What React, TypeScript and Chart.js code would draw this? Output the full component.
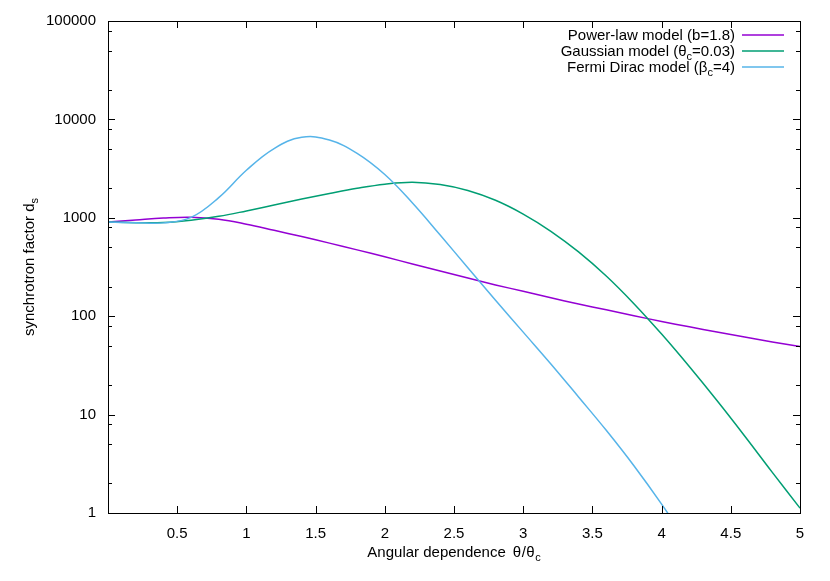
import React, { useEffect, useRef } from "react";
import { Chart, registerables } from "chart.js";

Chart.register(...registerables);

// ---- data ----
const thetaRatio = [0, 0.2, 0.4, 0.6, 0.8, 1.0, 1.2, 1.4, 1.6, 1.8, 2.0, 2.2, 2.4, 2.6, 2.8, 3.0, 3.2, 3.4, 3.6, 3.8, 4.0, 4.2, 4.4, 4.6, 4.8, 5.0];
const powerLaw = [904, 950, 995, 1014, 966, 861, 746, 644, 553, 472, 401, 340, 288, 244, 208, 179, 154, 133, 116, 101, 88.5, 78, 69, 61.4, 54.8, 49.2];
const gaussian = [904, 893, 895, 944, 1035, 1175, 1349, 1549, 1766, 1995, 2198, 2301, 2178, 1897, 1507, 1091, 729, 450, 256, 134, 65.8, 30.8, 13.9, 6.07, 2.59, 1.12];
const fermiDirac = [904, 893, 888, 1009, 1603, 3041, 5058, 6577, 6166, 4519, 2754, 1413, 668, 311, 145.5, 68.9, 32.7, 15.1, 6.92, 3.02, 1.23, 0.47, null, null, null, null];

const xTickValues = [0.5, 1, 1.5, 2, 2.5, 3, 3.5, 4, 4.5, 5];
const yTickValues = [1, 10, 100, 1000, 10000, 100000];
const yMinorFactors = [2, 5, 8];

const seriesNames = ["Power-law model (b=1.8)", "Gaussian model (θc=0.03)", "Fermi Dirac model (βc=4)"];
const seriesColors = ["#9400d3", "#009e73", "#56b4e9"];

const FONT = '"Liberation Sans", Arial, Helvetica, sans-serif';
const FS = 15;

type Seg = { t: string; sub?: boolean; pl?: number; pr?: number };

function drawRich(ctx: CanvasRenderingContext2D, segs: Seg[], x: number, y: number, align: "left" | "center" | "right") {
  const subSize = 11;
  let w = 0;
  for (const s of segs) {
    ctx.font = `${s.sub ? subSize : FS}px ${FONT}`;
    w += ctx.measureText(s.t).width + (s.pl || 0) + (s.pr || 0);
  }
  let cx = align === "left" ? x : align === "center" ? x - w / 2 : x - w;
  ctx.textAlign = "left";
  ctx.textBaseline = "alphabetic";
  for (const s of segs) {
    ctx.font = `${s.sub ? subSize : FS}px ${FONT}`;
    cx += s.pl || 0;
    ctx.fillText(s.t, cx, s.sub ? y + 4 : y);
    cx += ctx.measureText(s.t).width + (s.pr || 0);
  }
}

const legendSegs: Seg[][] = [
  [{ t: "Power-law model (b=1.8)" }],
  [{ t: "Gaussian model (θ" }, { t: "c", sub: true }, { t: "=0.03)" }],
  [{ t: "Fermi Dirac model (β" }, { t: "c", sub: true }, { t: "=4)" }],
];

const xTitleSegs: Seg[] = [
  { t: "Angular dependence", pr: 7 },
  { t: "θ", pr: 0.5 },
  { t: "/", pr: 0.5 },
  { t: "θ", pr: 0.5 },
  { t: "c", sub: true },
];

const yTitleSegs: Seg[] = [{ t: "synchrotron factor d" }, { t: "s", sub: true }];

const framePlugin = {
  id: "gnuframe",
  afterDatasetsDraw(chart: any) {
    const ctx: CanvasRenderingContext2D = chart.ctx;
    const { left, right, top, bottom } = chart.chartArea;
    const xs = chart.scales.x;
    const ys = chart.scales.y;
    ctx.save();
    ctx.strokeStyle = "#000";
    ctx.lineWidth = 1;
    ctx.beginPath();
    for (const v of xTickValues) {
      const px = Math.round(xs.getPixelForValue(v)) + 0.5;
      ctx.moveTo(px, bottom);
      ctx.lineTo(px, bottom - 7);
      ctx.moveTo(px, top);
      ctx.lineTo(px, top + 7);
    }
    for (const v of yTickValues) {
      const py = Math.round(ys.getPixelForValue(v)) + 0.5;
      ctx.moveTo(left, py);
      ctx.lineTo(left + 7, py);
      ctx.moveTo(right, py);
      ctx.lineTo(right - 7, py);
    }
    for (let i = 0; i < yTickValues.length - 1; i++) {
      for (const f of yMinorFactors) {
        const py = Math.round(ys.getPixelForValue(yTickValues[i] * f)) + 0.5;
        ctx.moveTo(left, py);
        ctx.lineTo(left + 4, py);
        ctx.moveTo(right, py);
        ctx.lineTo(right - 4, py);
      }
    }
    ctx.stroke();
    ctx.strokeRect(Math.round(left) + 0.5, Math.round(top) + 0.5, Math.round(right - left), Math.round(bottom - top));

    // legend
    ctx.fillStyle = "#000";
    const rowY = [35, 51, 67];
    legendSegs.forEach((segs, i) => {
      drawRich(ctx, segs, 735, rowY[i] + 5, "right");
      ctx.strokeStyle = seriesColors[i];
      ctx.lineWidth = 1.5;
      ctx.beginPath();
      ctx.moveTo(742, rowY[i]);
      ctx.lineTo(784, rowY[i]);
      ctx.stroke();
    });

    // axis titles
    ctx.fillStyle = "#000";
    drawRich(ctx, xTitleSegs, (left + right) / 2, 557, "center");
    ctx.translate(34, (top + bottom) / 2);
    ctx.rotate(-Math.PI / 2);
    drawRich(ctx, yTitleSegs, 0, 0, "center");
    ctx.restore();
  },
};

export default function App() {
  const ref = useRef<HTMLCanvasElement | null>(null);
  useEffect(() => {
    if (!ref.current) return;
    const mk = (vals: (number | null)[]) => thetaRatio.map((x, i) => ({ x, y: vals[i] }));
    const series = [powerLaw, gaussian, fermiDirac];
    const chart = new Chart(ref.current, {
      type: "line",
      data: {
        datasets: series.map((vals, i) => ({
          label: seriesNames[i],
          data: mk(vals) as any,
          borderColor: seriesColors[i],
          backgroundColor: seriesColors[i],
          borderWidth: 1.5,
          pointRadius: 0,
          tension: 0.4,
          fill: false,
          spanGaps: false,
          order: 3 - i,
        })),
      },
      options: {
        animation: false,
        responsive: false,
        devicePixelRatio: 1,
        layout: { padding: { top: 20, right: 30, left: 0, bottom: 0 } },
        plugins: { legend: { display: false }, tooltip: { enabled: false }, title: { display: false } },
        scales: {
          x: {
            type: "linear",
            min: 0,
            max: 5,
            grid: { display: false, drawTicks: false },
            border: { display: false },
            afterBuildTicks: (s: any) => {
              s.ticks = xTickValues.map((v) => ({ value: v }));
            },
            afterFit: (s: any) => {
              s.height = 68;
            },
            ticks: {
              autoSkip: false,
              maxRotation: 0,
              padding: 12,
              color: "#000",
              font: { family: FONT, size: FS },
              callback: (v: any) => String(v),
            },
          },
          y: {
            type: "logarithmic",
            min: 1,
            max: 100000,
            grid: { display: false, drawTicks: false },
            border: { display: false },
            afterBuildTicks: (s: any) => {
              s.ticks = yTickValues.map((v) => ({ value: v }));
            },
            afterFit: (s: any) => {
              s.width = 108;
            },
            ticks: {
              autoSkip: false,
              padding: 12,
              color: "#000",
              font: { family: FONT, size: FS },
              callback: (v: any) => String(v),
            },
          },
        },
      },
      plugins: [framePlugin],
    });
    return () => chart.destroy();
  }, []);
  return (
    <canvas
      ref={ref}
      width={830}
      height={581}
      style={{ position: "fixed", left: 0, top: 0, width: 830, height: 581, display: "block", background: "#fff" }}
    />
  );
}
